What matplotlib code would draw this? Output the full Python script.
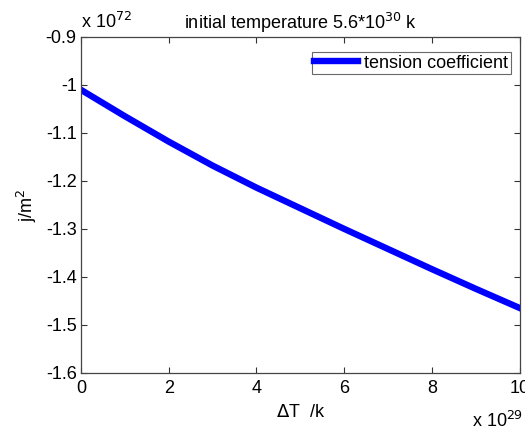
import matplotlib
matplotlib.use('Agg')
import matplotlib.pyplot as plt

plt.rcParams['font.family'] = ['Liberation Sans', 'DejaVu Sans']

# data (x in 1e29 k, y in 1e72 j/m^2)
delta_t = [0, 1, 2, 3, 4, 5, 6, 7, 8, 9, 10]
tension = [-1.010, -1.065, -1.118, -1.168, -1.214, -1.257, -1.300, -1.342, -1.384, -1.425, -1.465]
x_ticks = [0, 2, 4, 6, 8, 10]
y_ticks = [-1.6, -1.5, -1.4, -1.3, -1.2, -1.1, -1.0, -0.9]
y_tick_labels = ['-1.6', '-1.5', '-1.4', '-1.3', '-1.2', '-1.1', '-1', '-0.9']

fs = 13

fig = plt.figure(figsize=(5.25, 4.3), dpi=100)
ax = fig.add_axes([0.154, 0.133, 0.836, 0.781])

ax.plot(delta_t, tension, color='#0000ff', linewidth=4.6, label='tension coefficient')

ax.set_xlim(0, 10)
ax.set_ylim(-1.6, -0.9)
ax.set_xticks(x_ticks)
ax.set_yticks(y_ticks)
ax.set_yticklabels(y_tick_labels)
ax.tick_params(direction='in', length=4, width=0.8, labelsize=fs, top=True, right=True,
               color='#333333')
ax.tick_params(axis='x', pad=5)
ax.tick_params(axis='y', pad=3)
for s in ax.spines.values():
    s.set_color('#444444')
    s.set_linewidth(0.9)

ax.set_title('initial temperature 5.6*10$^{30}$ k', fontsize=fs, pad=6)
ax.set_xlabel('$\\Delta$T  /k', fontsize=fs, labelpad=5)
ax.set_ylabel('j/m$^2$', fontsize=fs, labelpad=5)

# MATLAB style exponent labels
fig.text(0.155, 0.935, 'x 10$^{72}$', fontsize=fs)
fig.text(0.900, 0.008, 'x 10$^{29}$', fontsize=fs)

leg = ax.legend(loc='upper right', bbox_to_anchor=(1 - 9 / 439, 1 - 15 / 336),
                fontsize=fs, frameon=True, fancybox=False, borderaxespad=0,
                handlelength=2.4, handletextpad=0.35, borderpad=0.15)
leg.get_frame().set_edgecolor('#444444')
leg.get_frame().set_linewidth(0.8)

plt.savefig('out.png', dpi=100, facecolor='white')
